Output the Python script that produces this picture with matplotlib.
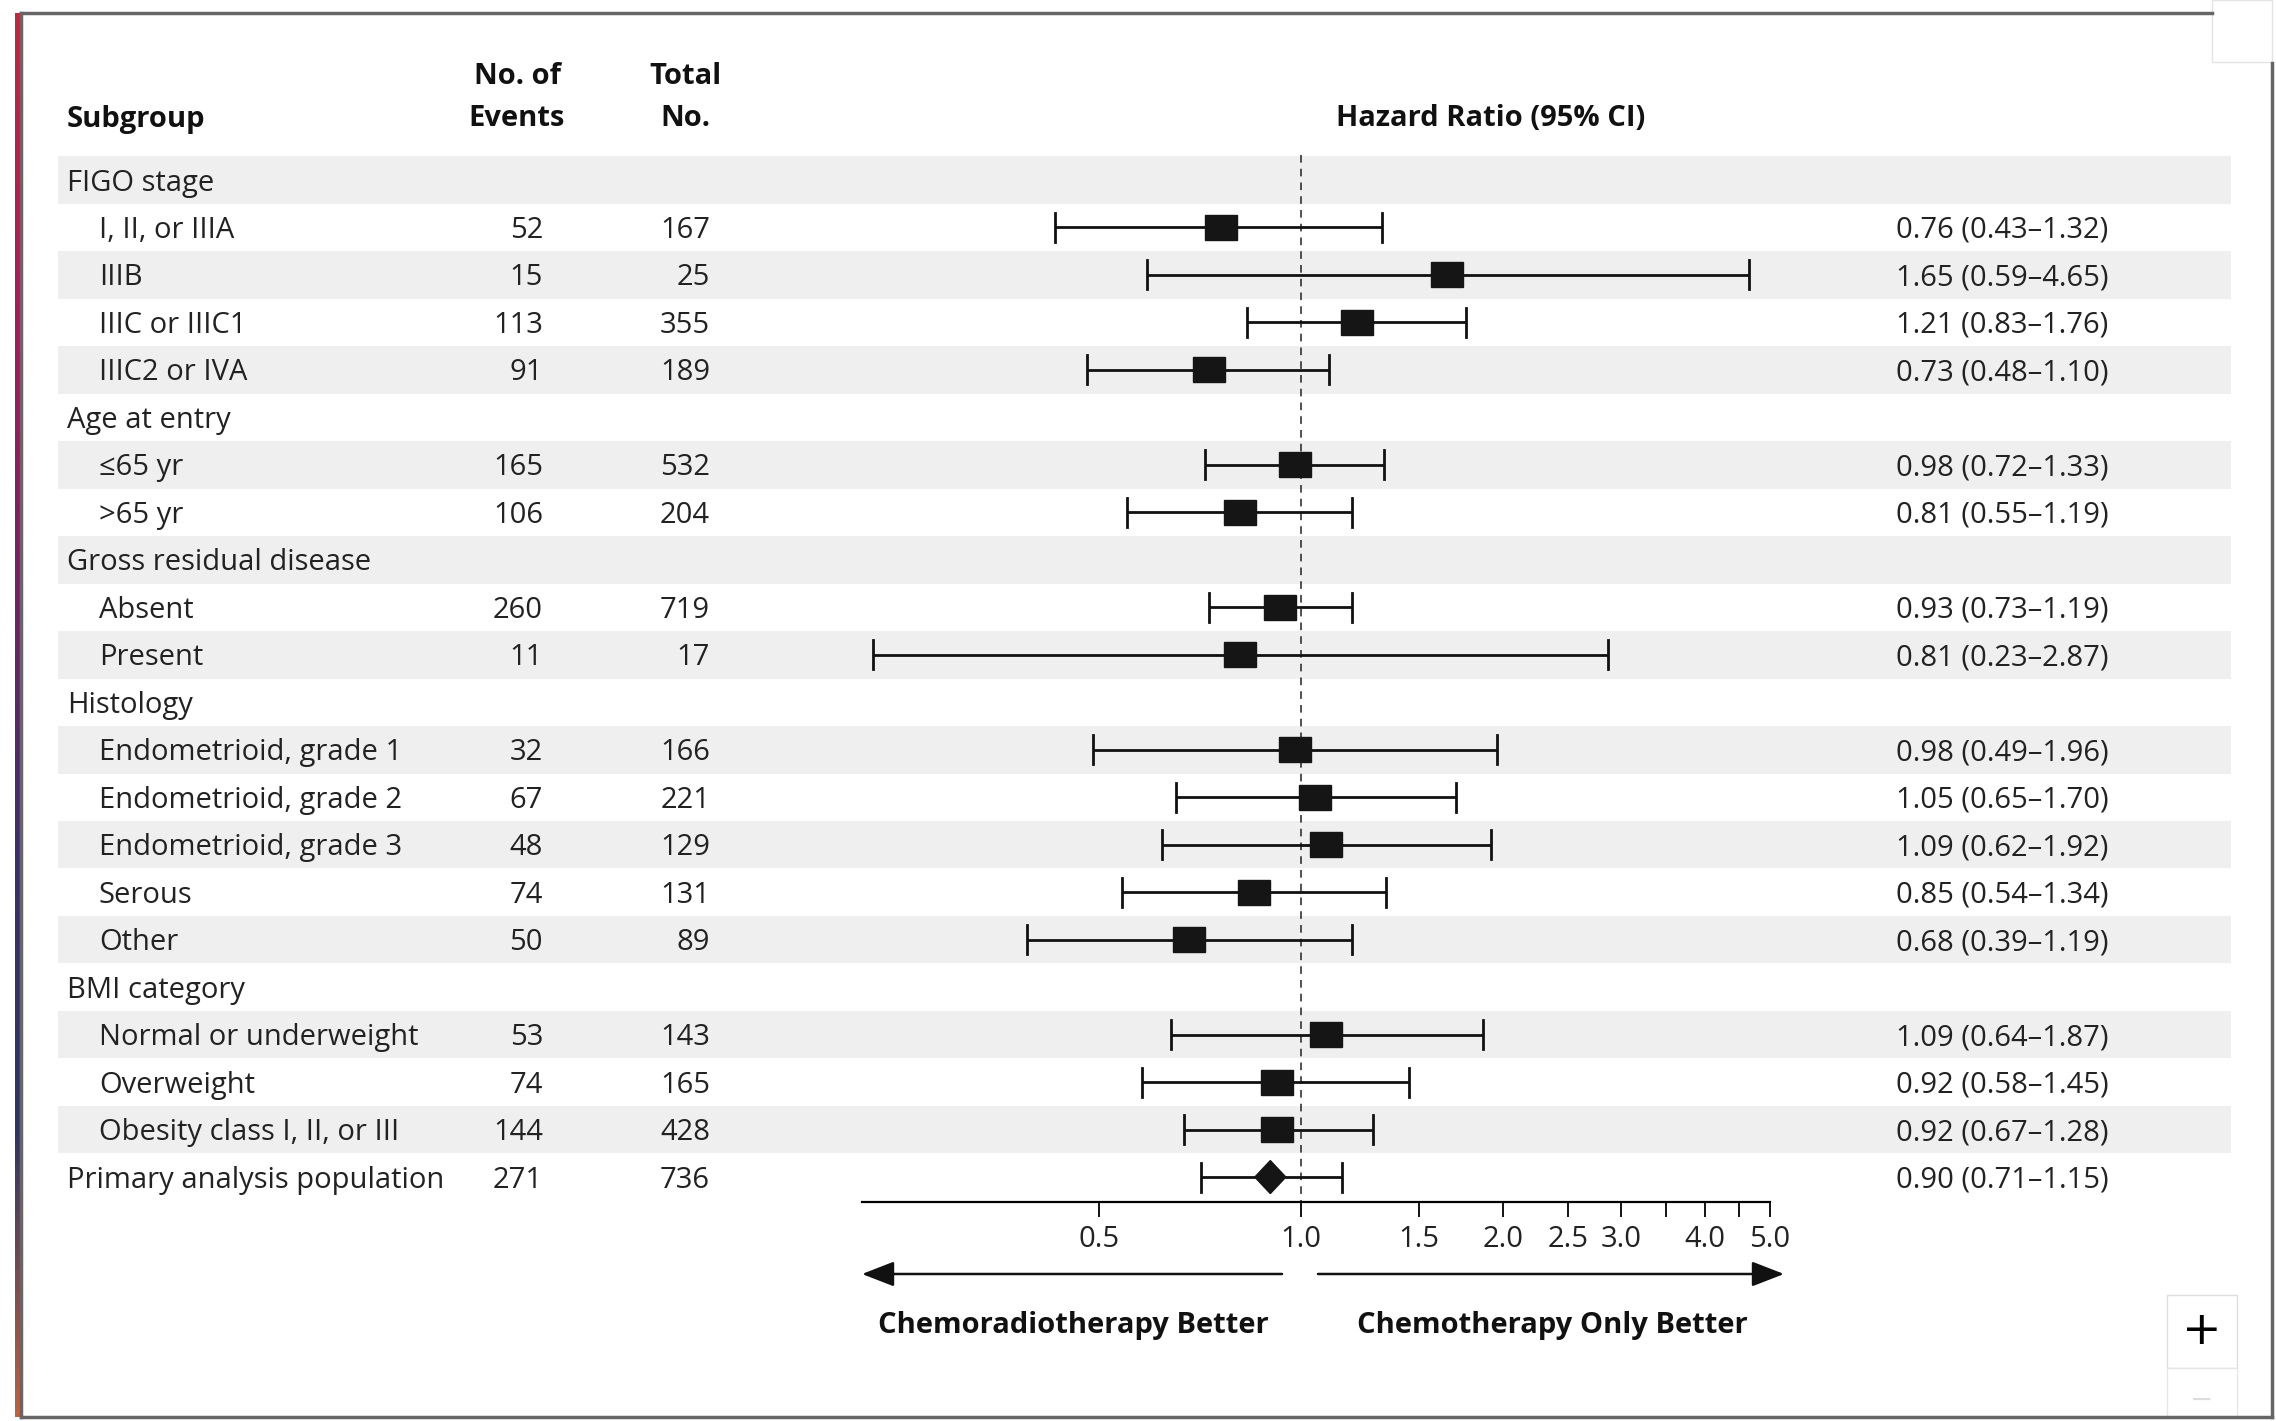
import numpy as np
import matplotlib.pyplot as plt
import matplotlib.transforms as mtransforms
from matplotlib.patches import Rectangle, Polygon
from matplotlib.lines import Line2D
from matplotlib.colors import LinearSegmentedColormap

plt.rcParams['font.family'] = ['Open Sans', 'DejaVu Sans']

# ---- data ----
labels = ['FIGO stage', 'I, II, or IIIA', 'IIIB', 'IIIC or IIIC1', 'IIIC2 or IVA',
          'Age at entry', '\u226465 yr', '>65 yr',
          'Gross residual disease', 'Absent', 'Present',
          'Histology', 'Endometrioid, grade 1', 'Endometrioid, grade 2',
          'Endometrioid, grade 3', 'Serous', 'Other',
          'BMI category', 'Normal or underweight', 'Overweight',
          'Obesity class I, II, or III',
          'Primary analysis population']
indent = [0, 1, 1, 1, 1, 0, 1, 1, 0, 1, 1, 0, 1, 1, 1, 1, 1, 0, 1, 1, 1, 0]
events = [None, 52, 15, 113, 91, None, 165, 106, None, 260, 11,
          None, 32, 67, 48, 74, 50, None, 53, 74, 144, 271]
totals = [None, 167, 25, 355, 189, None, 532, 204, None, 719, 17,
          None, 166, 221, 129, 131, 89, None, 143, 165, 428, 736]
hr = [None, 0.76, 1.65, 1.21, 0.73, None, 0.98, 0.81, None, 0.93, 0.81,
      None, 0.98, 1.05, 1.09, 0.85, 0.68, None, 1.09, 0.92, 0.92, 0.90]
lo = [None, 0.43, 0.59, 0.83, 0.48, None, 0.72, 0.55, None, 0.73, 0.23,
      None, 0.49, 0.65, 0.62, 0.54, 0.39, None, 0.64, 0.58, 0.67, 0.71]
hi = [None, 1.32, 4.65, 1.76, 1.10, None, 1.33, 1.19, None, 1.19, 2.87,
      None, 1.96, 1.70, 1.92, 1.34, 1.19, None, 1.87, 1.45, 1.28, 1.15]

tick_vals = [0.5, 1.0, 1.5, 2.0, 2.5, 3.0, 3.5, 4.0, 4.5, 5.0]
tick_text = ['0.5', '1.0', '1.5', '2.0', '2.5', '3.0', '', '4.0', '', '5.0']

# ---- layout (pixels of the 2276x1421 canvas) ----
W, H = 2276, 1421
FS = 21
row0, step = 180, 47.48          # y pixel of first row, row pitch
x_one, per_log = 1301, 291.2     # x pixel of HR=1, pixels per ln unit
ax_l, ax_r, ax_t, ax_b = 820, 1800, 140, 1202
dy = 3 / step                    # small nudge so text sits like the original


def fx(px):
    return px / W


def fy(py):
    return 1 - py / H


def row_of(py):
    return (py - row0) / step


def hr_of(px):
    return np.exp((px - x_one) / per_log)


fig = plt.figure(figsize=(W / 100, H / 100), dpi=100)
fig.patch.set_facecolor('white')

ax = fig.add_axes([fx(ax_l), fy(ax_b), (ax_r - ax_l) / W, (ax_b - ax_t) / H])
ax.set_facecolor('none')
ax.set_xscale('log')
ax.set_xlim(hr_of(ax_l), hr_of(ax_r))
ax.set_ylim(row_of(ax_b), row_of(ax_t))
for s in ['top', 'left', 'right']:
    ax.spines[s].set_visible(False)
ax.spines['bottom'].set_bounds(hr_of(862), 5.0)
ax.spines['bottom'].set_linewidth(1.6)
ax.set_yticks([])
ax.xaxis.set_minor_locator(plt.NullLocator())
ax.set_xticks(tick_vals)
ax.set_xticklabels(tick_text, fontsize=FS, color='#222222')
ax.tick_params(axis='x', direction='out', length=10.5, width=1.3, pad=6)

trans = mtransforms.blended_transform_factory(fig.transFigure, ax.transData)
n = len(labels)

# striped bands
for i in range(0, n - 1, 2):
    ax.add_patch(Rectangle((fx(58), i - 0.5), fx(2231) - fx(58), 1.0,
                           transform=trans, facecolor='#efefef',
                           edgecolor='none', zorder=0, clip_on=False))

# reference line at HR = 1
ax.plot([1.0, 1.0], [row_of(155), row_of(ax_b)], color='#222222', lw=1.1,
        ls=(0, (5, 4)), zorder=1, clip_on=False)

# text columns
for i in range(n):
    ax.text(fx(67 if indent[i] == 0 else 99), i + dy, labels[i], transform=trans,
            fontsize=FS, va='center', ha='left', color='#222222')
    if events[i] is not None:
        ax.text(fx(543), i + dy, str(events[i]), transform=trans, fontsize=FS,
                va='center', ha='right', color='#222222')
        ax.text(fx(710), i + dy, str(totals[i]), transform=trans, fontsize=FS,
                va='center', ha='right', color='#222222')
        ax.text(fx(1896), i + dy, f'{hr[i]:.2f} ({lo[i]:.2f}\u2013{hi[i]:.2f})',
                transform=trans, fontsize=FS, va='center', ha='left',
                color='#222222')

# headers
hdr = dict(transform=trans, fontsize=FS, fontweight='bold', va='center',
           color='#111111')
ax.text(fx(67), row_of(119), 'Subgroup', ha='left', **hdr)
ax.text(fx(517), row_of(77), 'No. of', ha='center', **hdr)
ax.text(fx(517), row_of(119), 'Events', ha='center', **hdr)
ax.text(fx(685), row_of(77), 'Total', ha='center', **hdr)
ax.text(fx(685), row_of(119), 'No.', ha='center', **hdr)
ax.text(fx(1491), row_of(119), 'Hazard Ratio (95% CI)', ha='center', **hdr)

# CI lines, squares, diamond
cap = 0.305
sq_w, sq_h = 32 / per_log / 2, 25 / step / 2
dm_w, dm_h = 31 / per_log / 2, 33 / step / 2
for i in range(n):
    if hr[i] is None:
        continue
    ax.plot([lo[i], hi[i]], [i, i], color='#111111', lw=2.0, zorder=2,
            solid_capstyle='butt')
    ax.plot([lo[i], lo[i]], [i - cap, i + cap], color='#111111', lw=2.0, zorder=2)
    ax.plot([hi[i], hi[i]], [i - cap, i + cap], color='#111111', lw=2.0, zorder=2)
    if i == n - 1:
        pts = [(hr[i] * np.exp(-dm_w), i), (hr[i], i - dm_h),
               (hr[i] * np.exp(dm_w), i), (hr[i], i + dm_h)]
        ax.add_patch(Polygon(pts, closed=True, facecolor='#151515',
                             edgecolor='#151515', zorder=3))
    else:
        x0 = hr[i] * np.exp(-sq_w)
        ax.add_patch(Rectangle((x0, i - sq_h), hr[i] * np.exp(sq_w) - x0,
                               2 * sq_h, facecolor='#151515',
                               edgecolor='#151515', zorder=3))

# direction arrows and labels
y_arr = row_of(1274)
arr = dict(arrowstyle='-|>,head_length=0.9,head_width=0.35', lw=1.8,
           color='#111111', shrinkA=0, shrinkB=0, mutation_scale=22)
ax.annotate('', xy=(hr_of(862), y_arr), xytext=(hr_of(1282), y_arr),
            arrowprops=arr, annotation_clip=False)
ax.annotate('', xy=(hr_of(1784), y_arr), xytext=(hr_of(1318), y_arr),
            arrowprops=arr, annotation_clip=False)
ax.text(fx(1073), row_of(1325), 'Chemoradiotherapy Better', ha='center', **hdr)
ax.text(fx(1552), row_of(1325), 'Chemotherapy Only Better', ha='center', **hdr)

# screenshot frame
frame = '#666666'
fig.add_artist(Line2D([fx(21), fx(2212)], [fy(13), fy(13)], color=frame, lw=2.5))
fig.add_artist(Line2D([fx(21), fx(21)], [fy(13), fy(1417)], color=frame, lw=2.5))
fig.add_artist(Line2D([fx(21), fx(2272)], [fy(1417), fy(1417)], color=frame, lw=2.5))
fig.add_artist(Line2D([fx(2272), fx(2272)], [fy(63), fy(1417)], color=frame, lw=2.5))
strip = fig.add_axes([fx(15), fy(1417), fx(5), (1417 - 13) / H])
strip.axis('off')
strip_cmap = LinearSegmentedColormap.from_list(
    'edge', ['#c8243c', '#b0185a', '#7a1f66', '#3c2f6e', '#2e3566', '#c2603a'])
strip.imshow(np.linspace(0, 1, 200).reshape(-1, 1), aspect='auto', cmap=strip_cmap)
fig.add_artist(Rectangle((fx(2212), fy(62)), fx(60), 62 / H,
                         facecolor='white', edgecolor='#e4e4e4', lw=1))
fig.add_artist(Rectangle((fx(2167), fy(1368)), fx(70), 73 / H,
                         facecolor='white', edgecolor='#dddddd', lw=1))
fig.add_artist(Rectangle((fx(2167), fy(1417)), fx(70), 49 / H,
                         facecolor='white', edgecolor='#e6e6e6', lw=1))
fig.text(fx(2202), fy(1332), '+', fontsize=34, ha='center', va='center',
         family='DejaVu Sans', color='black')
fig.text(fx(2202), fy(1400), '\u2212', fontsize=20, ha='center', va='center',
         family='DejaVu Sans', color='#dddddd')

fig.savefig('out.png', dpi=100, facecolor='white')
